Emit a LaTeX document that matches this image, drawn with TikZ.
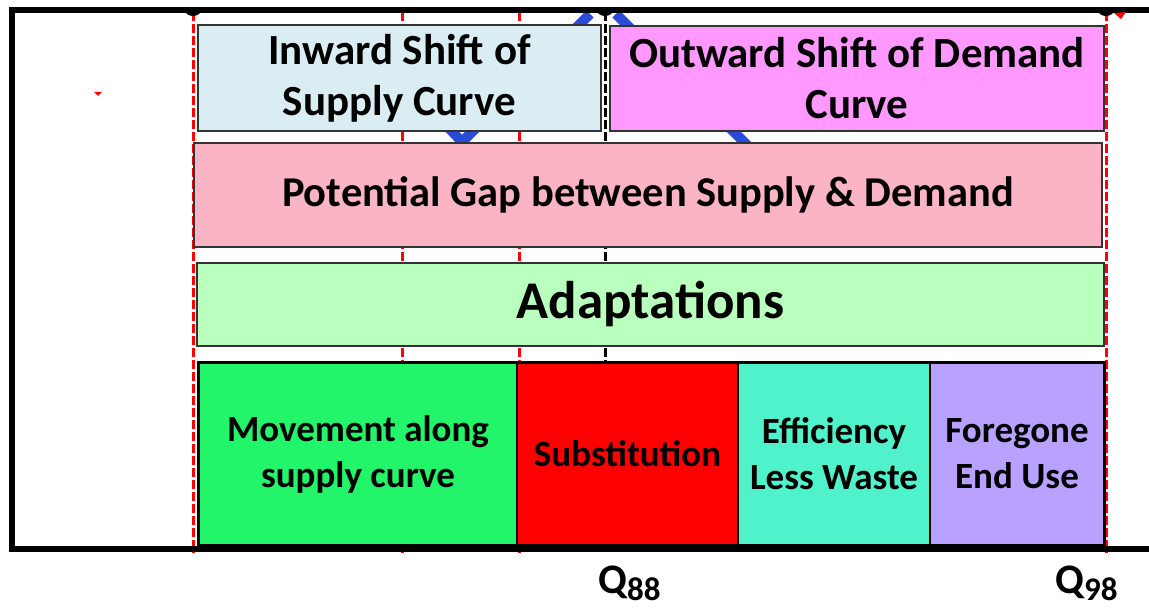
\documentclass[tikz,border=0pt]{standalone}
\usepackage{fontspec}
\setmainfont{Carlito}
\usepackage{xcolor}
\usepackage{tikz}
\usetikzlibrary{positioning,fit}

\definecolor{inwardfill}{HTML}{DAEDF3}
\definecolor{outwardfill}{HTML}{FF99FF}
\definecolor{gapfill}{HTML}{FAB4C3}
\definecolor{adaptfill}{HTML}{B9FFBE}
\definecolor{movefill}{HTML}{22F56A}
\definecolor{subfill}{HTML}{FF0000}
\definecolor{efffill}{HTML}{4FF2CB}
\definecolor{forefill}{HTML}{B9A1FF}
\definecolor{curveblue}{HTML}{2A4BD7}

\begin{document}
\begin{tikzpicture}[
  x=1pt, y=1pt,
  box/.style={draw=black!80, line width=1.6pt, align=center, inner sep=0pt, outer sep=0pt, font=\fontsize{43}{51}\selectfont\bfseries},
  cell/.style={box, draw=black, minimum height=182pt, font=\fontsize{37}{46}\selectfont\bfseries},
  grp/.style={draw=black, line width=0.8pt, inner sep=1.8pt},
  cut/.style={red, line width=3pt, dash pattern=on 9pt off 3pt},
  tick/.style={black, line width=3pt, dash pattern=on 9pt off 3pt},
  curve/.style={curveblue, line width=10pt},
  axis/.style={line width=6pt},
  qlbl/.style={inner sep=0pt, anchor=base west, font=\fontsize{42}{42}\selectfont\bfseries}
]
  \useasboundingbox (0,0) rectangle (1149,609);

  % curves behind the boxes
  \draw[curve] (430,501) -- (462,467) -- (590,595);
  \draw[curve] (616,595) -- (760,451);

  % quantity markers
  \draw[cut] (193,597) -- (193,56);
  \draw[cut] (402,597) -- (402,56);
  \draw[cut] (519,597) -- (519,56);
  \draw[cut] (1106,597) -- (1106,56);
  \draw[tick] (605,597) -- (605,59);

  \node[box, fill=inwardfill, minimum width=403pt, minimum height=106pt] (inward) at (399.5,531) {Inward Shift of\\Supply Curve};
  \node[box, fill=outwardfill, minimum width=494pt, minimum height=105pt] (outward) at (857,530.5) {Outward Shift of Demand\\Curve};
  \node[box, fill=gapfill, minimum width=908pt, minimum height=104pt, font=\fontsize{42.5}{50}\selectfont\bfseries] (gap) at (648,414) {Potential Gap between Supply \& Demand};
  \node[box, fill=adaptfill, minimum width=907pt, minimum height=83pt, font=\fontsize{53}{62}\selectfont\bfseries] (adapt) at (650.5,304.5) {Adaptations};

  \node[cell, fill=movefill, minimum width=318pt, anchor=north west] (move) at (199,246) {Movement along\\supply curve};
  \node[cell, fill=subfill, minimum width=221pt, right=0pt of move] (subst) {Substitution};
  \node[cell, fill=efffill, minimum width=192pt, right=0pt of subst] (eff) {Efficiency\\Less Waste};
  \node[cell, fill=forefill, minimum width=174pt, right=0pt of eff] (fore) {Foregone\\End Use};
  \node[grp, fit=(move)(fore)] (row) {};

  % axes
  \draw[axis] (1160,599) -- (12,599) -- (12,59.5) -- (1160,59.5);
  \foreach \x in {193,605,1106}
    \fill (\x-8,599) arc[start angle=180, end angle=360, x radius=8, y radius=6];
  \fill[red] (94,517) -- (102,517) -- (98,513) -- cycle;
  \fill[red] (1114,596) -- (1126,597) -- (1121,590) -- cycle;

  \node[qlbl] (q88) at (598,15) {Q\raisebox{-7pt}{\fontsize{33}{33}\selectfont 88}};
  \node[qlbl] (q98) at (1055,15) {Q\raisebox{-7pt}{\fontsize{33}{33}\selectfont 98}};
\end{tikzpicture}
\end{document}
